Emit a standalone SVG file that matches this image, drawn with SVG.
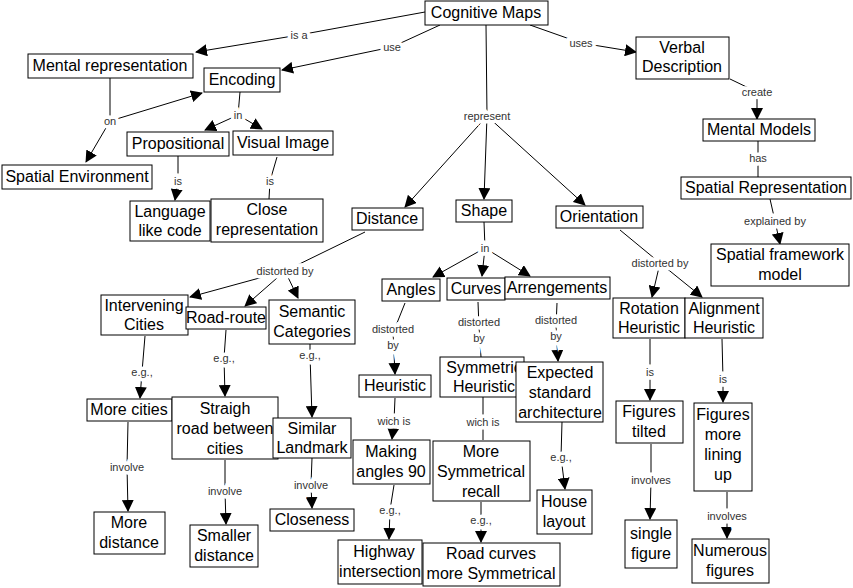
<svg xmlns="http://www.w3.org/2000/svg" width="853" height="588" viewBox="0 0 853 588">
<style>
.n rect{fill:#fff;stroke:#000;stroke-width:1}
.n text{font-family:"Liberation Sans",Arial,sans-serif;font-size:16px;text-anchor:middle;fill:#000}
.c line{stroke:#000;stroke-width:1}
.a{marker-end:url(#ah)}
.l{font-family:"Liberation Sans",Arial,sans-serif;font-size:11px;text-anchor:middle;fill:#333;stroke:#fff;stroke-width:7;paint-order:stroke}
</style>
<defs><marker id="ah" markerUnits="userSpaceOnUse" markerWidth="12" markerHeight="12" refX="11" refY="6" orient="auto"><path d="M0,0 L12,6 L0,12 z" fill="#000"/></marker></defs>
<rect width="853" height="588" fill="#fff"/>
<g class="c">
<line x1="425" y1="12" x2="299" y2="35"/><line class="a" x1="299" y1="35" x2="196" y2="52"/>
<line x1="440" y1="25" x2="392" y2="47"/><line class="a" x1="392" y1="47" x2="282" y2="70"/>
<line x1="530" y1="25" x2="581" y2="43"/><line class="a" x1="581" y1="43" x2="636" y2="52"/>
<line x1="730" y1="79" x2="757" y2="92"/><line class="a" x1="757" y1="92" x2="757" y2="119"/>
<line x1="758" y1="141" x2="758" y2="158"/><line x1="758" y1="158" x2="758" y2="177"/>
<line x1="770" y1="199" x2="775" y2="221"/><line class="a" x1="775" y1="221" x2="780" y2="244"/>
<line x1="110" y1="78" x2="110" y2="121"/><line class="a" x1="110" y1="121" x2="202" y2="93"/><line class="a" x1="110" y1="121" x2="86" y2="162"/>
<line x1="240" y1="92" x2="238" y2="115"/><line class="a" x1="238" y1="115" x2="205" y2="130"/><line class="a" x1="238" y1="115" x2="262" y2="129"/>
<line x1="178" y1="156" x2="178" y2="181"/><line class="a" x1="178" y1="181" x2="175" y2="200"/>
<line x1="277" y1="157" x2="270" y2="181"/><line x1="270" y1="181" x2="269" y2="199"/>
<line x1="486" y1="25" x2="487" y2="116"/><line class="a" x1="487" y1="116" x2="405" y2="207"/><line class="a" x1="487" y1="116" x2="484" y2="199"/><line class="a" x1="487" y1="116" x2="585" y2="205"/>
<line x1="365" y1="232" x2="285" y2="271"/><line class="a" x1="285" y1="271" x2="190" y2="297"/><line class="a" x1="285" y1="271" x2="245" y2="306"/><line class="a" x1="285" y1="271" x2="298" y2="298"/>
<line x1="484" y1="222" x2="485" y2="248"/><line class="a" x1="485" y1="248" x2="433" y2="277"/><line class="a" x1="485" y1="248" x2="482" y2="276"/><line class="a" x1="485" y1="248" x2="530" y2="276"/>
<line x1="620" y1="230" x2="660" y2="263"/><line class="a" x1="660" y1="263" x2="652" y2="297"/><line class="a" x1="660" y1="263" x2="702" y2="297"/>
<line x1="405" y1="303" x2="393" y2="333"/><line class="a" x1="393" y1="333" x2="395" y2="374"/>
<line x1="478" y1="302" x2="479" y2="328"/><line x1="479" y1="328" x2="481" y2="357"/>
<line x1="557" y1="303" x2="556" y2="327"/><line class="a" x1="556" y1="327" x2="558" y2="361"/>
<line x1="145" y1="336" x2="142" y2="372"/><line class="a" x1="142" y1="372" x2="140" y2="398"/>
<line x1="226" y1="330" x2="224" y2="358"/><line class="a" x1="224" y1="358" x2="225" y2="396"/>
<line x1="310" y1="344" x2="310" y2="355"/><line class="a" x1="310" y1="355" x2="312" y2="417"/>
<line x1="395" y1="398" x2="394" y2="421"/><line class="a" x1="394" y1="421" x2="392" y2="439"/>
<line x1="483" y1="397" x2="483" y2="422"/><line x1="483" y1="422" x2="483" y2="440"/>
<line x1="562" y1="422" x2="561" y2="457"/><line class="a" x1="561" y1="457" x2="565" y2="489"/>
<line x1="650" y1="339" x2="650" y2="372"/><line class="a" x1="650" y1="372" x2="650" y2="400"/>
<line x1="722" y1="339" x2="723" y2="379"/><line class="a" x1="723" y1="379" x2="723" y2="402"/>
<line x1="128" y1="422" x2="127" y2="467"/><line class="a" x1="127" y1="467" x2="128" y2="511"/>
<line x1="225" y1="460" x2="225" y2="491"/><line class="a" x1="225" y1="491" x2="226" y2="524"/>
<line x1="312" y1="458" x2="311" y2="485"/><line class="a" x1="311" y1="485" x2="312" y2="508"/>
<line x1="394" y1="485" x2="390" y2="510"/><line class="a" x1="390" y1="510" x2="389" y2="539"/>
<line x1="481" y1="502" x2="481" y2="520"/><line class="a" x1="481" y1="520" x2="481" y2="542"/>
<line x1="651" y1="444" x2="651" y2="480"/><line class="a" x1="651" y1="480" x2="650" y2="519"/>
<line x1="727" y1="492" x2="727" y2="516"/><line class="a" x1="727" y1="516" x2="727" y2="538"/>
</g>
<g>
<text class="l" x="299" y="39">is a</text><text class="l" x="392" y="51">use</text><text class="l" x="581" y="47">uses</text>
<text class="l" x="757" y="96">create</text><text class="l" x="758" y="162">has</text><text class="l" x="775" y="225">explained by</text>
<text class="l" x="110" y="125">on</text><text class="l" x="238" y="119">in</text><text class="l" x="178" y="185">is</text><text class="l" x="270" y="185">is</text>
<text class="l" x="487" y="120">represent</text><text class="l" x="285" y="275">distorted by</text><text class="l" x="485" y="252">in</text><text class="l" x="660" y="267">distorted by</text>
<text class="l" x="393" y="333">distorted<tspan x="393" dy="16">by</tspan></text>
<text class="l" x="479" y="326">distorted<tspan x="479" dy="16">by</tspan></text>
<text class="l" x="556" y="324">distorted<tspan x="556" dy="16">by</tspan></text>
<text class="l" x="142" y="376">e.g.,</text><text class="l" x="224" y="362">e.g.,</text><text class="l" x="310" y="359">e.g.,</text>
<text class="l" x="394" y="425">wich is</text><text class="l" x="483" y="426">wich is</text><text class="l" x="561" y="461">e.g.,</text>
<text class="l" x="650" y="376">is</text><text class="l" x="723" y="383">is</text>
<text class="l" x="127" y="471">involve</text><text class="l" x="225" y="495">involve</text><text class="l" x="311" y="489">involve</text>
<text class="l" x="390" y="514">e.g.,</text><text class="l" x="481" y="524">e.g.,</text><text class="l" x="651" y="484">involves</text><text class="l" x="727" y="520">involves</text>
</g>
<g id="cognitive-maps" class="n"><rect x="425" y="1" width="123" height="24"/><text x="486" y="18">Cognitive Maps</text></g>
<g id="mental-representation" class="n"><rect x="28" y="54" width="165" height="24"/><text x="110" y="71">Mental representation</text></g>
<g id="encoding" class="n"><rect x="204" y="68" width="76" height="24"/><text x="242" y="85">Encoding</text></g>
<g id="verbal-description" class="n"><rect x="636" y="37" width="93" height="42"/><text x="682" y="53">Verbal</text><text x="682" y="72">Description</text></g>
<g id="propositional" class="n"><rect x="127" y="132" width="102" height="24"/><text x="178" y="149">Propositional</text></g>
<g id="visual-image" class="n"><rect x="233" y="131" width="100" height="24"/><text x="283" y="148">Visual Image</text></g>
<g id="spatial-environment" class="n"><rect x="2" y="165" width="150" height="24"/><text x="77" y="182">Spatial Environment</text></g>
<g id="language-like-code" class="n"><rect x="130" y="201" width="80" height="40"/><text x="170" y="217">Language</text><text x="170" y="236">like code</text></g>
<g id="close-representation" class="n"><rect x="211" y="199" width="112" height="43"/><text x="267" y="215">Close</text><text x="267" y="235">representation</text></g>
<g id="distance" class="n"><rect x="352" y="208" width="71" height="22"/><text x="387" y="224">Distance</text></g>
<g id="shape" class="n"><rect x="456" y="200" width="56" height="22"/><text x="484" y="216">Shape</text></g>
<g id="orientation" class="n"><rect x="556" y="206" width="87" height="22"/><text x="599" y="222">Orientation</text></g>
<g id="mental-models" class="n"><rect x="703" y="119" width="112" height="22"/><text x="759" y="135">Mental Models</text></g>
<g id="spatial-representation" class="n"><rect x="681" y="177" width="170" height="22"/><text x="766" y="193">Spatial Representation</text></g>
<g id="spatial-framework-model" class="n"><rect x="711" y="244" width="138" height="42"/><text x="780" y="260">Spatial framework</text><text x="780" y="280">model</text></g>
<g id="intervening-cities" class="n"><rect x="101" y="295" width="87" height="40"/><text x="144" y="311">Intervening</text><text x="144" y="330">Cities</text></g>
<g id="road-route" class="n"><rect x="186" y="307" width="80" height="22"/><text x="226" y="323">Road-route</text></g>
<g id="semantic-categories" class="n"><rect x="269" y="300" width="86" height="44"/><text x="312" y="317">Semantic</text><text x="312" y="337">Categories</text></g>
<g id="angles" class="n"><rect x="382" y="279" width="58" height="22"/><text x="411" y="295">Angles</text></g>
<g id="curves" class="n"><rect x="447" y="278" width="58" height="22"/><text x="476" y="294">Curves</text></g>
<g id="arrengements" class="n"><rect x="505" y="277" width="105" height="22"/><text x="557" y="293">Arrengements</text></g>
<g id="rotation-heuristic" class="n"><rect x="613" y="298" width="72" height="40"/><text x="649" y="314">Rotation</text><text x="649" y="333">Heuristic</text></g>
<g id="alignment-heuristic" class="n"><rect x="685" y="298" width="78" height="40"/><text x="724" y="314">Alignment</text><text x="724" y="333">Heuristic</text></g>
<g id="heuristic" class="n"><rect x="359" y="375" width="72" height="22"/><text x="395" y="391">Heuristic</text></g>
<g id="symmetric-heuristic" class="n"><rect x="440" y="357" width="84" height="40"/><text x="484" y="373">Symmetric</text><text x="484" y="392">Heuristic</text></g>
<g id="expected-standard-architecture" class="n"><rect x="516" y="362" width="87" height="60"/><text x="560" y="378">Expected</text><text x="560" y="398">standard</text><text x="560" y="418">architecture</text></g>
<g id="more-cities" class="n"><rect x="87" y="399" width="85" height="22"/><text x="129" y="415">More cities</text></g>
<g id="straigh-road" class="n"><rect x="172" y="397" width="106" height="62"/><text x="225" y="414">Straigh</text><text x="225" y="434">road between</text><text x="225" y="454">cities</text></g>
<g id="similar-landmark" class="n"><rect x="273" y="418" width="78" height="40"/><text x="312" y="434">Similar</text><text x="312" y="453">Landmark</text></g>
<g id="making-angles-90" class="n"><rect x="353" y="440" width="77" height="44"/><text x="391" y="457">Making</text><text x="391" y="477">angles 90</text></g>
<g id="more-symmetrical-recall" class="n"><rect x="433" y="441" width="97" height="60"/><text x="481" y="457">More</text><text x="481" y="477">Symmetrical</text><text x="481" y="497">recall</text></g>
<g id="house-layout" class="n"><rect x="537" y="490" width="55" height="44"/><text x="564" y="507">House</text><text x="564" y="527">layout</text></g>
<g id="figures-tilted" class="n"><rect x="616" y="401" width="67" height="42"/><text x="649" y="417">Figures</text><text x="649" y="437">tilted</text></g>
<g id="figures-more-lining-up" class="n"><rect x="694" y="403" width="58" height="88"/><text x="723" y="420">Figures</text><text x="723" y="440">more</text><text x="723" y="460">lining</text><text x="723" y="480">up</text></g>
<g id="more-distance" class="n"><rect x="94" y="512" width="71" height="42"/><text x="129" y="528">More</text><text x="129" y="548">distance</text></g>
<g id="smaller-distance" class="n"><rect x="190" y="525" width="68" height="42"/><text x="224" y="541">Smaller</text><text x="224" y="561">distance</text></g>
<g id="closeness" class="n"><rect x="270" y="509" width="84" height="22"/><text x="312" y="525">Closeness</text></g>
<g id="highway-intersection" class="n"><rect x="338" y="540" width="84" height="44"/><text x="384" y="557">Highway</text><text x="380" y="577">intersection</text></g>
<g id="road-curves" class="n"><rect x="423" y="543" width="137" height="43"/><text x="491" y="559">Road curves</text><text x="491" y="579">more Symmetrical</text></g>
<g id="single-figure" class="n"><rect x="625" y="520" width="52" height="48"/><text x="651" y="539">single</text><text x="651" y="559">figure</text></g>
<g id="numerous-figures" class="n"><rect x="692" y="539" width="77" height="44"/><text x="730" y="556">Numerous</text><text x="730" y="576">figures</text></g>
</svg>
